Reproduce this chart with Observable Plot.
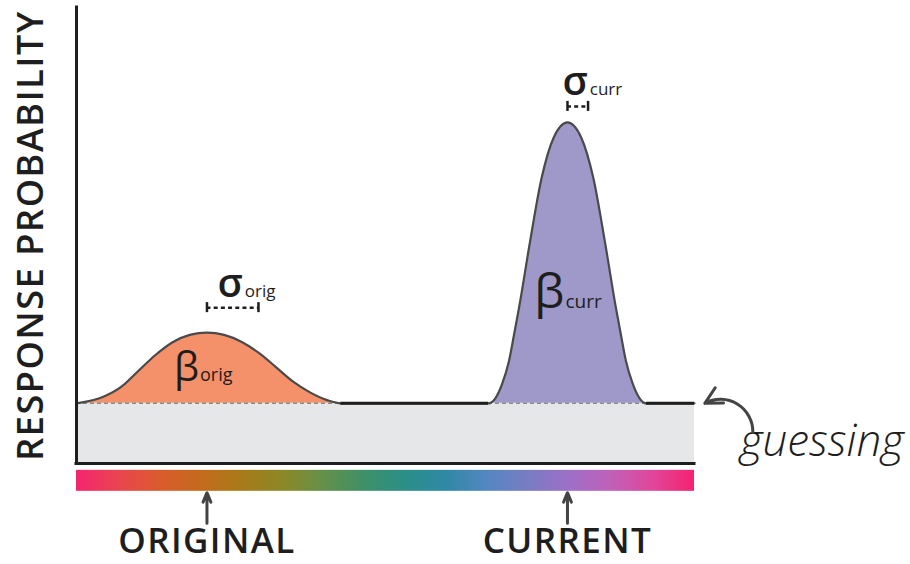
<!DOCTYPE html>
<html><head><meta charset="utf-8">
<script src="https://cdn.jsdelivr.net/npm/d3@7"></script>
<script src="https://cdn.jsdelivr.net/npm/@observablehq/plot@0.6"></script>
<style>
body{margin:0;background:#fff}
svg{font-family:"Open Sans",sans-serif}
</style>
</head><body><div id="chart"></div>
<script>
// ---- data (stimulus space in degrees of hue, response probability) ----
const guessLevel = 0.132;
const origX = [0, 16, 26, 36, 46, 56, 66, 76, 86, 96, 106, 116, 126, 136, 146, 154];
const origY = [0.132, 0.147, 0.168, 0.203, 0.238, 0.266, 0.282, 0.287, 0.282, 0.267, 0.243, 0.212, 0.180, 0.156, 0.139, 0.132];
const currX = [240, 244, 248, 252, 255, 258, 264, 271, 278, 286, 294, 301, 308, 314, 317, 320, 324, 328, 332];
const currY = [0.132, 0.143, 0.175, 0.226, 0.285, 0.346, 0.482, 0.627, 0.715, 0.748, 0.715, 0.627, 0.482, 0.346, 0.285, 0.226, 0.175, 0.143, 0.132];
const origMean = 76, currMean = 286;
const origSigma = 30, currSigma = 12;
const stimulusNames = ["ORIGINAL", "CURRENT"];
const stimulusPos = [origMean, currMean];
const hueMax = 360;

// ---- style ----
const hueStops = ["#f5246f","#ea4450","#db5a2e","#c46a1c","#a87a18","#8c8826","#64904a","#3e9068","#2b8f88","#3088a6","#5487c0","#7a7cc2","#9f6fc8","#c060b8","#e0469a","#f5226f"];
const ink = "#1e1e1e";

const orig = origX.map((x, i) => ({x, y: origY[i]}));
const curr = currX.map((x, i) => ({x, y: currY[i]}));
const response = [...orig, ...curr, {x: hueMax, y: guessLevel}];
const flats = [{x1: origX[origX.length-1], x2: currX[0]}, {x1: currX[currX.length-1], x2: hueMax}];
const humpSpans = [{x1: origX[0], x2: origX[origX.length-1]}, {x1: currX[0], x2: currX[currX.length-1]}];
const origPeak = d3.max(origY), currPeak = d3.max(currY);
const stimuli = stimulusNames.map((name, i) => ({name, x: stimulusPos[i]}));
const G = () => guessLevel;

function sigmaMarks(mean, sigma, peak, lift, sub) {
  const yb = () => peak;
  const h = 0.011;
  return [
    Plot.ruleY([0], {x1: () => mean, x2: () => mean + sigma, y: yb, dy: -lift, stroke: ink, strokeWidth: 2.5, strokeDasharray: "4,3.2"}),
    Plot.ruleX([mean, mean + sigma], {x: d => d, y1: () => peak - h, y2: () => peak + h, dy: -lift, stroke: ink, strokeWidth: 2.5}),
    Plot.text([0], {x: () => mean + sigma / 2, y: yb, text: () => "σ", textAnchor: "end", lineAnchor: "bottom", dx: 10, dy: -lift - 11, fontSize: 40, fontWeight: 600, fill: ink}),
    Plot.text([0], {x: () => mean + sigma / 2, y: yb, text: () => sub, textAnchor: "start", lineAnchor: "bottom", dx: 12, dy: -lift - 11, fontSize: 17, fill: ink})
  ];
}
function betaMarks(mean, yv, shift, big, small, sub) {
  return [
    Plot.text([0], {x: () => mean, y: () => yv, text: () => "β", textAnchor: "end", lineAnchor: "bottom", dx: shift, fontSize: big, fill: ink}),
    Plot.text([0], {x: () => mean, y: () => yv, text: () => sub, textAnchor: "start", lineAnchor: "bottom", dx: shift + 1, fontSize: small, fill: ink})
  ];
}

const svg = Plot.plot({
  width: 910, height: 564,
  x: {domain: [0, hueMax], range: [76, 694], axis: null},
  y: {domain: [0, 1], range: [463, 7], axis: null},
  marks: [
    Plot.rect([{x1: 0, x2: hueMax}], {x1: "x1", x2: "x2", y1: () => 0, y2: G, fill: "#e6e7e8"}),
    Plot.areaY(orig, {x: "x", y1: G, y2: "y", fill: "#f4916a", curve: "monotone-x"}),
    Plot.areaY(curr, {x: "x", y1: G, y2: "y", fill: "#9e99c8", curve: "monotone-x"}),
    Plot.ruleY(humpSpans, {x1: "x1", x2: "x2", y: G, stroke: "#8a8a8a", strokeWidth: 1.6, strokeDasharray: "4,3"}),
    Plot.line(response, {x: "x", y: "y", stroke: "#4a4a4a", strokeWidth: 2.2, curve: "monotone-x"}),
    Plot.ruleY(flats, {x1: "x1", x2: "x2", y: G, stroke: ink, strokeWidth: 3}),
    Plot.ruleX([0], {y1: () => 0, y2: () => 1, stroke: ink, strokeWidth: 3, strokeLinecap: "square"}),
    Plot.ruleY([0], {x1: () => 0, x2: () => hueMax, stroke: ink, strokeWidth: 3, strokeLinecap: "square"}),
    // hue colour bar
    Plot.rect([{x1: 0, x2: hueMax}], {x1: "x1", x2: "x2", y1: () => -0.015, y2: () => -0.061, fill: "url(#hueGradient)"}),
    Plot.arrow(stimuli, {x1: "x", x2: "x", y1: () => -0.131, y2: () => -0.064, stroke: "#444", strokeWidth: 3, headLength: 14, headAngle: 45}),
    Plot.text(stimuli, {x: "x", y: () => -0.197, text: "name", lineAnchor: "bottom", fontSize: 35, fontWeight: 600, fill: ink, className: "stim"}),
    // annotations
    ...sigmaMarks(origMean, origSigma, origPeak, 25, "orig"),
    ...sigmaMarks(currMean, currSigma, currPeak, 16, "curr"),
    ...betaMarks(origMean, 0.181, -8, 40, 18, "orig"),
    ...betaMarks(currMean, 0.342, -3, 48, 19, "curr"),
    Plot.text(["RESPONSE PROBABILITY"], {x: () => -19.8, y: () => 0.5, text: d => d, rotate: -90, lineAnchor: "bottom", fontSize: 36, fontWeight: 600, fill: ink, className: "ylab"}),
    Plot.text(["guessing"], {x: () => 386.5, y: () => 0.0175, text: d => d, textAnchor: "start", lineAnchor: "bottom", fontSize: 44, fontStyle: "italic", fontWeight: 300, fill: ink}),
    Plot.arrow([0], {x1: () => 394, y1: () => 0.068, x2: () => 366, y2: G, bend: -60, stroke: "#444", strokeWidth: 3, headLength: 13, headAngle: 55})
  ]
});

const defs = d3.select(svg).insert("defs", ":first-child");
const grad = defs.append("linearGradient").attr("id", "hueGradient").attr("x1", "0%").attr("x2", "100%").attr("y1", "0%").attr("y2", "0%");
hueStops.forEach((c, i) => grad.append("stop").attr("offset", (i / (hueStops.length - 1) * 100) + "%").attr("stop-color", c));
d3.select(svg).selectAll(".stim text").style("letter-spacing", "1.4px");
d3.select(svg).selectAll(".ylab text").style("letter-spacing", "1.6px");

document.getElementById("chart").appendChild(svg);
</script>
</body></html>
